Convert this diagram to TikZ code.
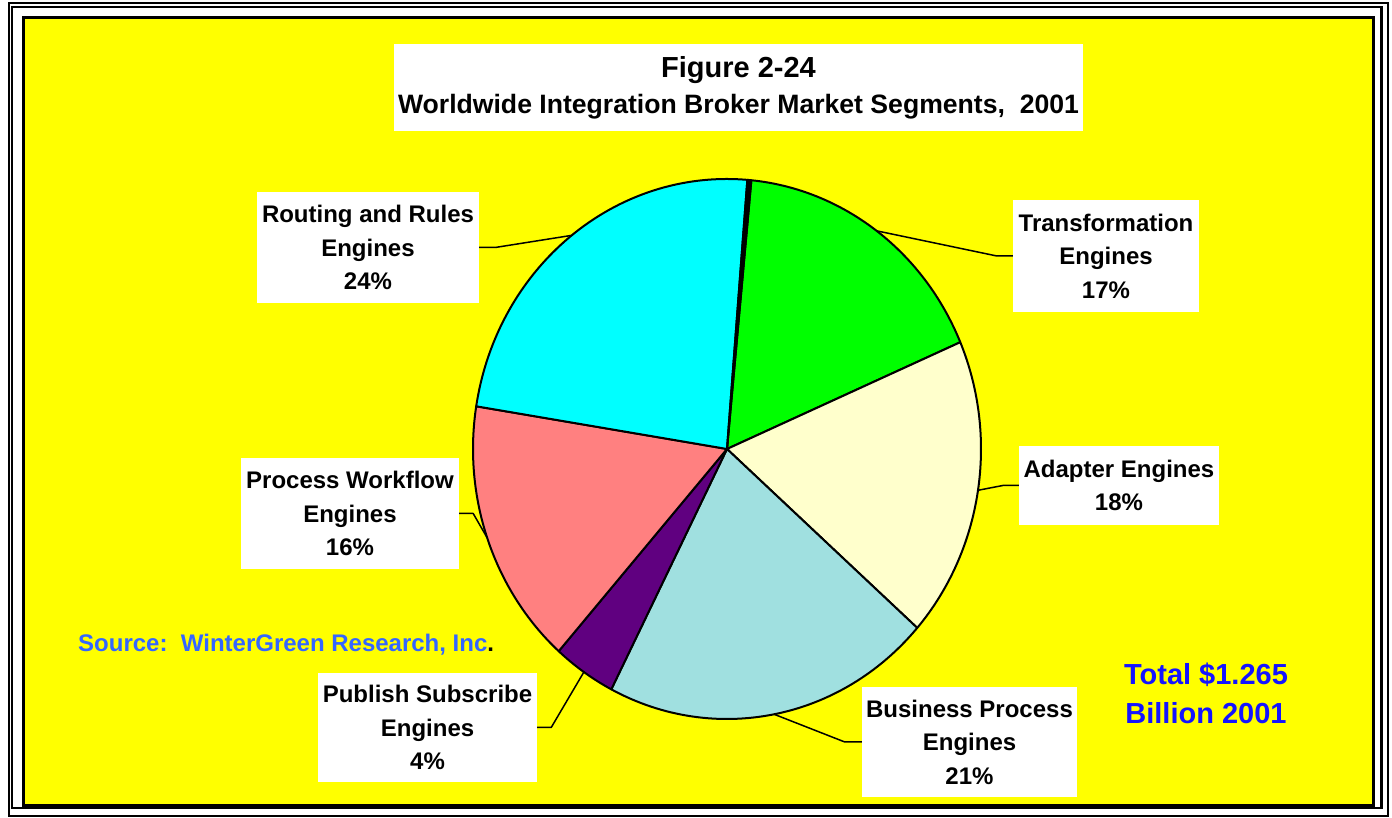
\documentclass[tikz,border=0pt]{standalone}
\usepackage{fontspec}
\setmainfont{Liberation Sans}
\definecolor{bgyellow}{RGB}{255,255,0}
\definecolor{slcyan}{RGB}{0,255,255}
\definecolor{slgreen}{RGB}{0,255,0}
\definecolor{sladapt}{RGB}{255,255,204}
\definecolor{slbus}{RGB}{160,224,224}
\definecolor{slpub}{RGB}{96,0,128}
\definecolor{slproc}{RGB}{255,128,128}
\definecolor{srcblue}{RGB}{51,102,255}
\definecolor{totblue}{RGB}{20,20,255}
\begin{document}
\begin{tikzpicture}[x=1pt,y=1pt,
  lbl/.style={fill=white, inner sep=0pt, align=center, font=\fontsize{24}{33.5}\selectfont\bfseries},
  slice/.style={draw=black, line width=2pt, line join=round},
  leader/.style={draw=black, line width=1.5pt, line join=round}]
\useasboundingbox (0,0) rectangle (1392,818);
\fill[white] (0,0) rectangle (1392,818);
\draw[line width=2.5pt] (9,2) rectangle (1388,815);
\draw[line width=2.5pt] (12,10) rectangle (1381.5,811);
\draw[line width=3pt, fill=bgyellow] (23.5,12.5) rectangle (1373,800);

\coordinate (c) at (727,369);
% slices
\filldraw[slice, fill=slgreen] (c) -- ++(84.5:254pt and 270pt) arc[start angle=84.5, end angle=23.3, x radius=254pt, y radius=270pt] -- cycle;
\filldraw[slice, fill=sladapt] (c) -- ++(23.3:254pt and 270pt) arc[start angle=23.3, end angle=-41.5, x radius=254pt, y radius=270pt] -- cycle;
\filldraw[slice, fill=slbus] (c) -- ++(-41.5:254pt and 270pt) arc[start angle=-41.5, end angle=-117.1, x radius=254pt, y radius=270pt] -- cycle;
\filldraw[slice, fill=slpub] (c) -- ++(-117.1:254pt and 270pt) arc[start angle=-117.1, end angle=-131.5, x radius=254pt, y radius=270pt] -- cycle;
\filldraw[slice, fill=slproc] (c) -- ++(-131.5:254pt and 270pt) arc[start angle=-131.5, end angle=-189.1, x radius=254pt, y radius=270pt] -- cycle;
\filldraw[slice, fill=slcyan] (c) -- ++(170.9:254pt and 270pt) arc[start angle=170.9, end angle=85.4, x radius=254pt, y radius=270pt] -- cycle;
\filldraw[slice, fill=black] (c) -- ++(85.4:254pt and 270pt) arc[start angle=85.4, end angle=84.5, x radius=254pt, y radius=270pt] -- cycle;

% leader anchor points on the rim
\path (c) ++(53.9:254pt and 270pt) coordinate (pT);
\path (c) ++(-8.8:254pt and 270pt) coordinate (pA);
\path (c) ++(-79.3:254pt and 270pt) coordinate (pB);
\path (c) ++(-124.3:254pt and 270pt) coordinate (pP);
\path (c) ++(199.2:254pt and 270pt) coordinate (pW);
\path (c) ++(127.7:254pt and 270pt) coordinate (pR);

% labels
\node[lbl, minimum width=689pt, minimum height=87pt, font=\fontsize{26.6}{36}\selectfont\bfseries] (title) at (738.5,730.5) {{\fontsize{29}{36}\selectfont Figure 2-24}\\Worldwide Integration Broker Market Segments,~~2001};
\node[lbl, minimum width=222pt, minimum height=111pt] (routing) at (368,570.5) {Routing and Rules\\Engines\\24\%};
\node[lbl, minimum width=186pt, minimum height=112pt] (trans) at (1106,562) {Transformation\\Engines\\17\%};
\node[lbl, minimum width=200pt, minimum height=79pt] (adapt) at (1119,332.5) {Adapter Engines\\18\%};
\node[lbl, minimum width=215pt, minimum height=110pt] (bus) at (969.5,76) {Business Process\\Engines\\21\%};
\node[lbl, minimum width=219pt, minimum height=109pt] (pub) at (427.5,90.5) {Publish Subscribe\\Engines\\4\%};
\node[lbl, minimum width=218pt, minimum height=111pt] (proc) at (350,304.5) {Process Workflow\\Engines\\16\%};

% leaders
\draw[leader] (routing.east) -- ++(16,0) -- (pR);
\draw[leader] (trans.west) -- ++(-16,0) -- (pT);
\draw[leader] (adapt.west) -- ++(-16,0) -- (pA);
\draw[leader] (bus.west) -- ++(-17,0) -- (pB);
\draw[leader] (pub.east) -- ++(14,0) -- (pP);
\draw[leader] (proc.east) -- ++(14,0) -- (pW);

% source and total
\node[anchor=base west, inner sep=0pt, text=srcblue, font=\fontsize{24}{29}\selectfont\bfseries] (src) at (78,166) {Source:~~WinterGreen Research, Inc\textcolor{black}{.}};
\node[align=center, inner sep=0pt, text=totblue, font=\fontsize{29}{39}\selectfont\bfseries] (total) at (1206,125) {Total \$1.265\\Billion 2001};
\end{tikzpicture}
\end{document}
